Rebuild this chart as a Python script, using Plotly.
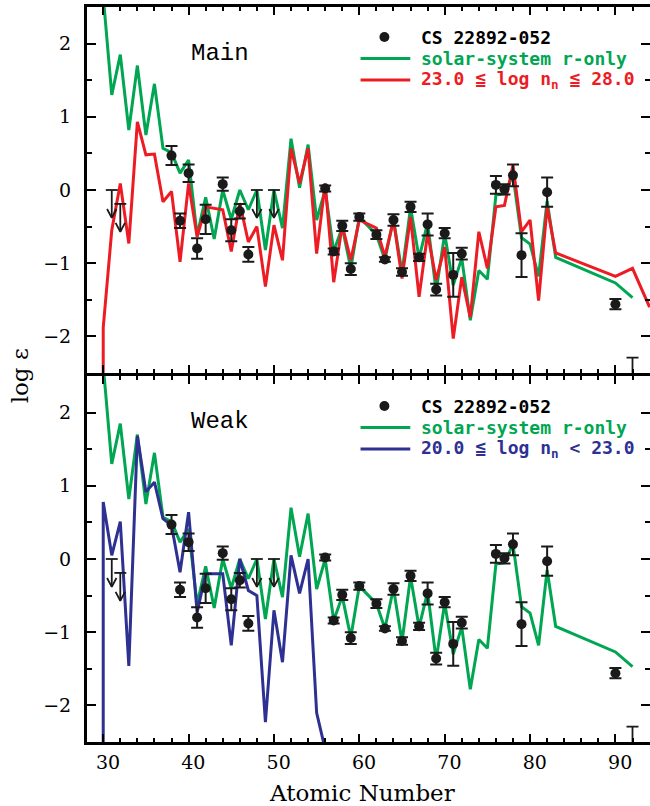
import plotly.graph_objects as go

# ---------------- data ----------------
# CS 22892-052 observed abundances (detections)
obs_z = [38, 39, 40, 41, 42, 44, 45, 46, 47, 56, 57, 58, 59, 60, 62, 63, 64, 65,
         66, 67, 68, 69, 70, 71, 72, 76, 77, 78, 79, 82, 90]
obs_val = [0.47, -0.42, 0.23, -0.80, -0.40, 0.08, -0.55, -0.29, -0.88, 0.02, -0.84,
           -0.49, -1.08, -0.37, -0.61, -0.95, -0.41, -1.12, -0.23, -0.92, -0.47,
           -1.36, -0.59, -1.16, -0.87, 0.07, 0.01, 0.20, -0.89, -0.03, -1.56]
obs_err = [0.13, 0.10, 0.12, 0.14, 0.20, 0.09, 0.15, 0.10, 0.10, 0.04, 0.04,
           0.07, 0.08, 0.05, 0.06, 0.03, 0.08, 0.05, 0.07, 0.05, 0.15,
           0.08, 0.07, 0.30, 0.08, 0.12, 0.07, 0.15, 0.30, 0.20, 0.07]

# upper limits
lim_z = [31, 32, 48, 50, 92]
lim_val = [0.0, -0.19, 0.0, 0.0, -2.29]

# solar-system r-only
solar_z = [30, 31, 32, 33, 34, 35, 36, 37, 38, 39, 40, 41, 42, 43, 44, 45, 46, 47, 48,
           49, 50, 51, 52, 53, 54, 55, 56, 57, 58, 59, 60, 62, 63, 64, 65, 66, 67, 68,
           69, 70, 71, 72, 73, 74, 75, 76, 77, 78, 79, 80, 81, 82, 83, 90, 92]
solar_val = [2.65, 1.30, 1.85, 0.82, 1.70, 0.75, 1.45, 0.57, 0.51, 0.23, 0.41, -0.62,
             -0.10, -0.67, 0.00, -0.40, 0.00, -0.27, 0.00, -0.82, 0.00, -0.52, 0.70,
             0.03, 0.62, -0.41, 0.00, -0.84, -0.51, -1.07, -0.37, -0.61, -0.95, -0.40,
             -1.13, -0.24, -0.93, -0.45, -1.38, -0.60, -1.30, -0.93, -1.78, -1.10,
             -1.22, -0.07, -0.05, 0.20, -0.65, -0.74, -1.18, -0.15, -0.92, -1.27, -1.47]

# main r-process, 23.0 <= log n_n <= 28.0
main_z = [30, 30, 31, 32, 33, 34, 35, 36, 37, 38, 39, 40, 41, 42, 44, 45, 46, 47, 48,
          49, 50, 51, 52, 53, 54, 55, 56, 57, 58, 59, 60, 62, 63, 64, 65, 66, 67, 68,
          69, 70, 71, 72, 73, 74, 75, 76, 77, 78, 79, 80, 81, 82, 83, 90, 92, 94]
main_val = [-5.0, -1.88, -0.55, 0.09, -0.73, 0.93, 0.48, 0.49, -0.16, -0.02, -0.98,
            0.09, -0.64, -0.23, -0.27, -0.84, -0.18, -0.71, -0.50, -1.32, -0.48,
            -0.96, 0.57, 0.09, 0.57, -0.87, 0.09, -1.26, -0.48, -0.96, -0.41, -0.52,
            -0.91, -0.41, -1.21, -0.37, -1.46, -0.59, -1.23, -0.78, -2.03, -1.19,
            -1.74, -0.57, -1.07, -0.23, -0.21, 0.34, -0.57, -0.41, -1.51, -0.23,
            -0.86, -1.18, -1.07, -1.60]

# weak r-process, 20.0 <= log n_n < 23.0
weak_z = [30, 30, 31, 32, 33, 34, 35, 36, 37, 38, 39, 40, 41, 42, 44, 45, 46, 47, 48,
          49, 50, 51, 52, 53, 54, 55, 56]
weak_val = [-5.0, 0.78, 0.05, 0.51, -1.46, 1.68, 0.92, 1.05, 0.55, 0.46, -0.18, 0.64,
            -0.73, -0.20, -0.20, -1.18, 0.00, -0.43, -0.50, -2.23, -0.70, -1.41,
            0.05, -0.47, 0.00, -2.10, -2.60]

x_ticks = [30, 40, 50, 60, 70, 80, 90]
x_ticklabels = ["30", "40", "50", "60", "70", "80", "90"]
y_ticks = [-2, -1, 0, 1, 2]

# ---------------- style ----------------
GREEN = "#00A651"
RED = "#ED1C24"
BLUE = "#2E3192"
VIEW_W = 650                 # visible window width
W, H = 653, 806              # figure is 3 px wider; right frame falls outside view
ML, MR, MT, MB = 87, 0, 7, 64
X_RANGE = [28.1, 94.05]
Y_RANGE = [-2.5, 2.5]
ARROW_LEN, CAP, HEAD_W, HEAD_H = 0.38, 0.7, 0.55, 0.12
TICKFONT = dict(family="DejaVu Serif", size=19, color="black")


def px_x(p):
    return (p - ML) / (W - ML - MR)


def px_y(p):
    return (H - MB - p) / (H - MT - MB)


def limit_path(zs, vs):
    xs, ys = [], []
    for z, v in zip(zs, vs):
        tip = v - ARROW_LEN
        xs += [z - CAP, z + CAP, None, z, z, None, z - HEAD_W, z, z + HEAD_W, None]
        ys += [v, v, None, v, tip, None, tip + HEAD_H, tip, tip + HEAD_H, None]
    return xs, ys


fig = go.Figure()
lx, ly = limit_path(lim_z, lim_val)

panels = [("x", "y", main_z, main_val, RED), ("x2", "y2", weak_z, weak_val, BLUE)]
for xa, ya, mz, mv, mcol in panels:
    fig.add_trace(go.Scatter(x=solar_z, y=solar_val, mode="lines",
                             line=dict(color=GREEN, width=3), xaxis=xa, yaxis=ya,
                             showlegend=False))
    fig.add_trace(go.Scatter(x=mz, y=mv, mode="lines",
                             line=dict(color=mcol, width=3), xaxis=xa, yaxis=ya,
                             showlegend=False))
    fig.add_trace(go.Scatter(x=lx, y=ly, mode="lines",
                             line=dict(color="#1a1a1a", width=1.8), xaxis=xa, yaxis=ya,
                             showlegend=False))
    fig.add_trace(go.Scatter(x=obs_z, y=obs_val, mode="markers",
                             marker=dict(size=10, color="#1a1a1a"),
                             error_y=dict(type="data", array=obs_err, color="#1a1a1a",
                                          thickness=2, width=6),
                             xaxis=xa, yaxis=ya, showlegend=False))

top_dom = [px_y(373), 1.0]
bot_dom = [0.0, px_y(376)]

xcommon = dict(range=X_RANGE, showline=True, linewidth=3, linecolor="black",
               mirror="allticks", ticks="inside", ticklen=8, tickwidth=1.5,
               tickcolor="black", tickvals=x_ticks,
               ticktext=["\u2002" + t for t in x_ticklabels],
               showgrid=False, zeroline=False,
               minor=dict(dtick=2, tick0=0, ticks="inside", ticklen=4, tickwidth=1.5,
                          tickcolor="black", showgrid=False),
               tickfont=TICKFONT)
ycommon = dict(range=Y_RANGE, showline=True, linewidth=3, linecolor="black",
               mirror="allticks", ticks="inside", ticklen=9, tickwidth=1.5,
               tickcolor="black", tickvals=y_ticks, showgrid=False, zeroline=False,
               minor=dict(dtick=0.5, tick0=0, ticks="inside", ticklen=5, tickwidth=1.5,
                          tickcolor="black", showgrid=False),
               tickfont=TICKFONT, ticklabelstandoff=9)

fig.update_layout(
    width=W, height=H, margin=dict(l=ML, r=MR, t=MT, b=MB),
    paper_bgcolor="white", plot_bgcolor="white", showlegend=False,
    xaxis=dict(xcommon, anchor="y", showticklabels=False),
    xaxis2=dict(xcommon, anchor="y2", showticklabels=True, ticklabelstandoff=1),
    yaxis=dict(ycommon, domain=top_dom, anchor="x"),
    yaxis2=dict(ycommon, domain=bot_dom, anchor="x2"),
)

annots = []
shapes = []
# axis titles
annots.append(dict(text="Atomic Number", x=px_x(363), y=px_y(793), xref="paper",
                   yref="paper", xanchor="center", yanchor="middle", showarrow=False,
                   font=dict(family="DejaVu Serif", size=23, color="black")))
annots.append(dict(text="log ε", x=px_x(20), y=px_y(376), xref="paper", yref="paper",
                   xanchor="center", yanchor="middle",
                   showarrow=False, textangle=-90,
                   font=dict(family="DejaVu Serif", size=23, color="black")))
# panel labels
for label, yy in [("Main", 53), ("Weak", 422)]:
    annots.append(dict(text=label, x=px_x(190), y=px_y(yy), xref="paper", yref="paper",
                       xanchor="left", yanchor="middle", showarrow=False,
                       font=dict(family="Liberation Mono", size=24, color="black")))

LEGFONT = "DejaVu Sans Mono"
legends = [
    (37, [("CS 22892-052", "black", None),
          ("solar-system r-only", GREEN, GREEN),
          ("23.0 ≦ log n<sub>n</sub> ≦ 28.0", RED, RED)]),
    (406, [("CS 22892-052", "black", None),
           ("solar-system r-only", GREEN, GREEN),
           ("20.0 ≦ log n<sub>n</sub> < 23.0", BLUE, BLUE)]),
]
for y0, items in legends:
    for i, (txt, tcol, lcol) in enumerate(items):
        yy = y0 + i * 21.5
        annots.append(dict(text="<b>" + txt + "</b>", x=px_x(421), y=px_y(yy),
                           xref="paper", yref="paper", xanchor="left", yanchor="middle",
                           showarrow=False, font=dict(family=LEGFONT, size=18, color=tcol)))
        if lcol is None:
            shapes.append(dict(type="circle", xref="paper", yref="paper",
                               x0=px_x(381), x1=px_x(391), y0=px_y(yy + 5), y1=px_y(yy - 5),
                               fillcolor="#1a1a1a", line=dict(width=0)))
        else:
            shapes.append(dict(type="line", xref="paper", yref="paper",
                               x0=px_x(362), x1=px_x(412), y0=px_y(yy), y1=px_y(yy),
                               line=dict(color=lcol, width=3)))

fig.update_layout(annotations=annots, shapes=shapes)

# clip the wrapper to the 650 px window so the page itself never overflows
clip_js = ("var d=document.getElementById('{plot_id}');"
           "var p=d.parentElement; p.style.width='%dpx'; p.style.overflow='hidden';"
           "document.body.style.margin='0';" % VIEW_W)
fig.write_html("out.html", post_script=clip_js)
